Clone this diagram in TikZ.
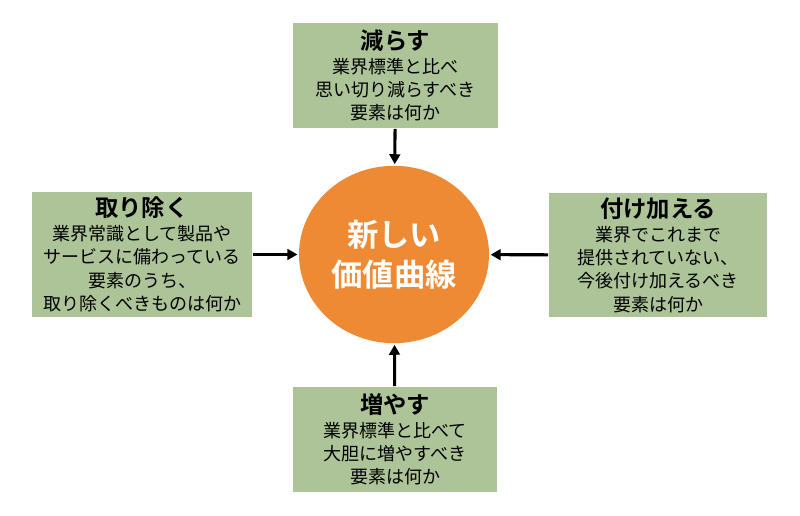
\documentclass[tikz,border=0pt]{standalone}
\usepackage{fontspec}
\setmainfont{Noto Sans CJK JP}[BoldFont={Noto Sans CJK JP Bold}]
\usetikzlibrary{arrows.meta,shapes.geometric}
\definecolor{boxgreen}{RGB}{172,196,152}
\definecolor{circorange}{RGB}{238,137,52}
\tikzset{
  box/.style={draw=none,fill=boxgreen,rectangle,align=center,inner sep=0pt,
    font={\fontsize{13.5}{16.3}\selectfont}},
  arr/.style={line width=2.3pt,-{Triangle[length=7.5pt,width=8pt]},shorten >=1pt,shorten <=0.5pt},
}
\newcommand{\boxtitle}[1]{{\bfseries\fontsize{17.5}{19}\selectfont #1}\\[1.6pt]}
\newcommand{\nl}{\\[1.2pt]}
\begin{document}
\begin{tikzpicture}[x=0.75pt,y=-0.75pt]
\useasboundingbox (0,0) rectangle (800,516);
\node[ellipse,fill=circorange,minimum width=142.5pt,minimum height=133pt,inner sep=0pt,
  text=white,align=center,font={\bfseries\fontsize{23.5}{29}\selectfont}] (circ) at (394,254.5) {新しい\\[1pt]価値曲線};
\node[box,minimum width=153.75pt,minimum height=78.75pt] (top) at (395.5,75.5)
  {\boxtitle{減らす}業界標準と比べ\nl 思い切り減らすべき\nl 要素は何か};
\node[box,minimum width=165pt,minimum height=93.75pt] (left) at (142,254.5)
  {\boxtitle{取り除く}業界常識として製品や\nl サービスに備わっている\nl 要素のうち、\nl 取り除くべきものは何か};
\node[box,minimum width=163.5pt,minimum height=93pt] (right) at (658,255)
  {\boxtitle{付け加える}業界でこれまで\nl 提供されていない、\nl 今後付け加えるべき\nl 要素は何か};
\node[box,minimum width=153pt,minimum height=78.75pt] (bottom) at (395,439.5)
  {\boxtitle{増やす}業界標準と比べて\nl 大胆に増やすべき\nl 要素は何か};
\draw[arr] (top) -- (circ);
\draw[arr] (left) -- (circ);
\draw[arr] (right) -- (circ);
\draw[arr] (bottom) -- (circ);
\end{tikzpicture}
\end{document}
